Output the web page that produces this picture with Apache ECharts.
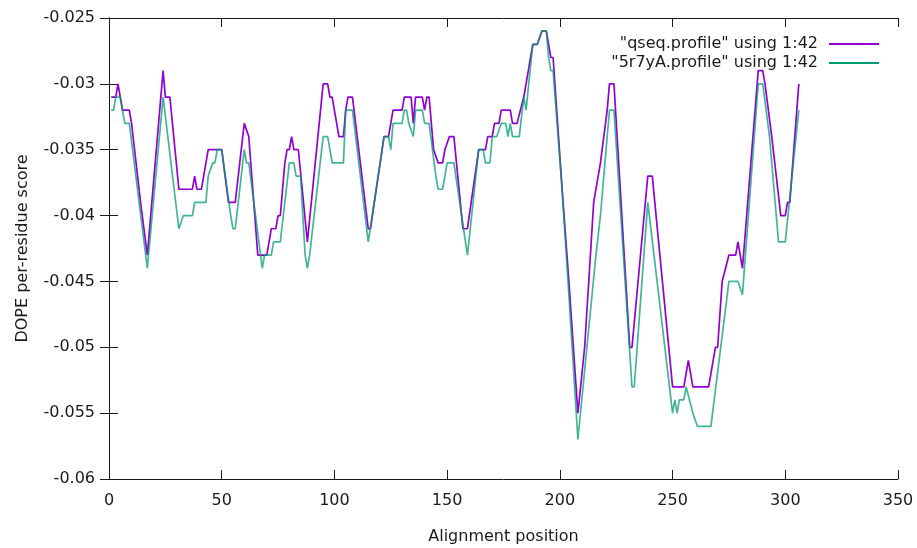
<!DOCTYPE html>
<html>
<head>
<meta charset="utf-8">
<script src="https://cdn.jsdelivr.net/npm/echarts@6/dist/echarts.min.js"></script>
<style>
  html, body { margin: 0; padding: 0; background: #fff; }
  #chart { width: 917px; height: 548px; }
</style>
</head>
<body>
<div id="chart"></div>
<script>
// qseq profile (purple) at its turning points
var qseqPos = [1, 3, 4, 5, 6, 9, 10, 14, 17, 24, 25, 27, 31, 37, 38, 39, 41, 43, 44, 50,
    53, 56, 60, 62, 66, 70, 71, 72, 74, 75, 76, 78, 79, 80, 81, 82, 84, 88, 95, 97,
    98, 99, 102, 104, 105, 106, 108, 115, 116, 122, 124, 125, 126, 130, 131, 134, 135, 136, 139, 140,
    141, 142, 144, 146, 148, 149, 151, 153, 157, 159, 164, 167, 168, 170, 171, 173, 174, 178, 179, 181,
    184, 188, 190, 192, 194, 195, 196, 197, 201, 204, 208, 211, 215, 218, 221, 222, 224, 231, 232, 239,
    241, 250, 255, 257, 259, 266, 269, 270, 272, 275, 278, 279, 281, 288, 290, 291, 294, 298, 300, 301,
    302, 306];
var qseqScore = [-0.031, -0.031, -0.030, -0.031, -0.032, -0.032, -0.033, -0.039, -0.043, -0.029, -0.031, -0.031, -0.038, -0.038, -0.037, -0.038, -0.038, -0.036, -0.035, -0.035,
    -0.039, -0.039, -0.033, -0.034, -0.043, -0.043, -0.042, -0.041, -0.041, -0.040, -0.040, -0.036, -0.035, -0.035, -0.034, -0.035, -0.035, -0.042, -0.030, -0.030,
    -0.031, -0.031, -0.034, -0.034, -0.032, -0.031, -0.031, -0.041, -0.041, -0.034, -0.034, -0.033, -0.032, -0.032, -0.031, -0.031, -0.033, -0.031, -0.031, -0.032,
    -0.031, -0.031, -0.035, -0.036, -0.036, -0.035, -0.034, -0.034, -0.041, -0.041, -0.035, -0.035, -0.034, -0.034, -0.033, -0.033, -0.032, -0.032, -0.033, -0.033,
    -0.031, -0.027, -0.027, -0.026, -0.026, -0.027, -0.028, -0.028, -0.038, -0.045, -0.055, -0.050, -0.039, -0.036, -0.032, -0.030, -0.030, -0.050, -0.050, -0.037,
    -0.037, -0.053, -0.053, -0.051, -0.053, -0.053, -0.050, -0.050, -0.045, -0.043, -0.043, -0.042, -0.044, -0.029, -0.029, -0.030, -0.034, -0.040, -0.040, -0.039,
    -0.039, -0.030];

// 5r7yA template profile (teal)
var tmplPos = [1, 2, 3, 5, 7, 9, 17, 24, 31, 33, 37, 38, 43, 44, 46, 47, 48, 50, 54, 55,
    56, 60, 61, 62, 68, 69, 72, 73, 76, 80, 82, 83, 85, 87, 88, 89, 95, 97, 98, 99,
    104, 105, 108, 115, 122, 124, 125, 126, 130, 131, 132, 133, 135, 136, 139, 140, 142, 145, 146, 148,
    149, 150, 153, 159, 164, 166, 167, 169, 170, 172, 174, 176, 177, 178, 179, 182, 184, 185, 188, 190,
    192, 194, 195, 196, 197, 201, 204, 208, 216, 218, 222, 224, 232, 233, 239, 250, 251, 252, 253, 255,
    256, 259, 261, 267, 275, 279, 281, 288, 290, 293, 297, 300, 306];
var tmplScore = [-0.032, -0.032, -0.031, -0.031, -0.033, -0.033, -0.044, -0.031, -0.041, -0.040, -0.040, -0.039, -0.039, -0.037, -0.036, -0.036, -0.035, -0.035, -0.040, -0.041,
    -0.041, -0.035, -0.036, -0.036, -0.044, -0.043, -0.043, -0.042, -0.042, -0.036, -0.036, -0.037, -0.037, -0.043, -0.044, -0.043, -0.034, -0.034, -0.035, -0.036,
    -0.036, -0.032, -0.032, -0.042, -0.034, -0.034, -0.035, -0.033, -0.033, -0.032, -0.032, -0.033, -0.034, -0.032, -0.032, -0.033, -0.033, -0.037, -0.038, -0.038,
    -0.037, -0.036, -0.036, -0.043, -0.035, -0.035, -0.036, -0.036, -0.034, -0.034, -0.033, -0.033, -0.034, -0.033, -0.034, -0.034, -0.031, -0.032, -0.027, -0.027,
    -0.026, -0.026, -0.028, -0.029, -0.029, -0.038, -0.046, -0.057, -0.043, -0.040, -0.032, -0.032, -0.053, -0.053, -0.039, -0.055, -0.054, -0.055, -0.054, -0.054,
    -0.053, -0.055, -0.056, -0.056, -0.045, -0.045, -0.046, -0.030, -0.030, -0.034, -0.042, -0.042, -0.032];

var seriesNames = ['"qseq.profile" using 1:42', '"5r7yA.profile" using 1:42'];

// x,y pares para echarts
function pairs(xs, ys) {
    return xs.map(function(x, i) { return [x, ys[i]]; });
}

var font = 'DejaVu Sans';
var ink = '#1a1a1a';

var chart = echarts.init(document.getElementById('chart'));

var mirrorAxis = {
    axisLine: { show: true, lineStyle: { color: ink, width: 1 } },
    axisTick: { show: true, inside: true, length: 9, lineStyle: { color: ink } },
    axisLabel: { show: false },
    splitLine: { show: false }
};

chart.setOption({
    animation: false,
    backgroundColor: '#fff',
    grid: { left: 109, right: 19, top: 18, bottom: 69, outerBoundsMode: 'none' },
    legend: {
        orient: 'vertical',
        right: 33,
        top: 31,
        align: 'right',
        icon: 'rect',
        itemWidth: 50,
        itemHeight: 2,
        itemGap: 3,
        data: seriesNames,
        textStyle: { fontFamily: font, fontSize: 16, color: ink, padding: [0, 6, 0, 0] }
    },
    xAxis: [{
        type: 'value',
        min: 0,
        max: 350,
        interval: 50,
        position: 'bottom',
        name: 'Alignment position',
        nameLocation: 'middle',
        nameGap: 50,
        nameTextStyle: { fontFamily: font, fontSize: 16, color: ink },
        axisLine: { lineStyle: { color: ink, width: 1 } },
        axisTick: { inside: true, length: 9, lineStyle: { color: ink } },
        axisLabel: { margin: 14, fontFamily: font, fontSize: 16, color: ink },
        splitLine: { show: false }
    }, Object.assign({ type: 'value', min: 0, max: 350, interval: 50, position: 'top' }, mirrorAxis)],
    yAxis: [{
        type: 'value',
        min: -0.06,
        max: -0.025,
        interval: 0.005,
        position: 'left',
        name: 'DOPE per-residue score',
        nameLocation: 'middle',
        nameGap: 78,
        nameTextStyle: { fontFamily: font, fontSize: 16, color: ink },
        axisLine: { show: true, lineStyle: { color: ink, width: 1 } },
        axisTick: { show: true, inside: true, length: 9, lineStyle: { color: ink } },
        axisLabel: {
            margin: 14, fontFamily: font, fontSize: 16, color: ink,
            formatter: function(v) { return String(+v.toFixed(3)); }
        },
        splitLine: { show: false }
    }, Object.assign({ type: 'value', min: -0.06, max: -0.025, interval: 0.005, position: 'right' }, mirrorAxis)],
    series: [{
        name: seriesNames[0],
        type: 'line',
        symbol: 'none',
        data: pairs(qseqPos, qseqScore),
        lineStyle: { color: '#9400d3', width: 1.7 },
        itemStyle: { color: '#9400d3' },
        z: 2
    }, {
        name: seriesNames[1],
        type: 'line',
        symbol: 'none',
        data: pairs(tmplPos, tmplScore),
        lineStyle: { color: '#009e73', width: 1.7, opacity: 0.75 },
        itemStyle: { color: '#009e73' },
        z: 3
    }]
});
</script>
</body>
</html>
